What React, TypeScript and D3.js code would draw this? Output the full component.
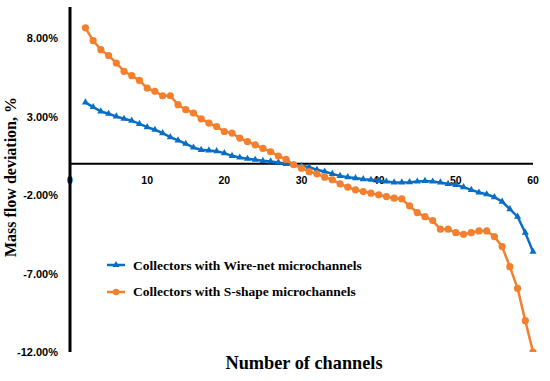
import React from "react"
import * as d3 from "d3"

const firstChannel = 2
const xTicks = [0, 10, 20, 30, 40, 50, 60]
const yTicks = [-12, -7, -2, 3, 8]

// Collectors with Wire-net microchannels (channels 2..60)
const wireNet = [
  3.92, 3.62, 3.34, 3.19, 3.02, 2.87, 2.75, 2.55, 2.34, 2.17,
  1.96, 1.7, 1.49, 1.28, 1.04, 0.89, 0.85, 0.81, 0.68, 0.51,
  0.4, 0.32, 0.26, 0.19, 0.15, 0.09, 0.0, -0.06, -0.13, -0.21,
  -0.38, -0.49, -0.64, -0.77, -0.85, -0.91, -0.98, -1.02, -1.07, -1.13,
  -1.19, -1.19, -1.17, -1.13, -1.09, -1.13, -1.19, -1.28, -1.34, -1.49,
  -1.66, -1.83, -1.94, -2.13, -2.41, -2.89, -3.37, -4.39, -5.6,
]

// Collectors with S-shape microchannels (channels 2..60)
const sShape = [
  8.67, 7.85, 7.28, 6.9, 6.43, 5.9, 5.62, 5.32, 4.83, 4.62,
  4.34, 4.34, 3.77, 3.45, 3.24, 2.87, 2.6, 2.38, 2.06, 1.96,
  1.64, 1.42, 1.21, 0.98, 0.77, 0.5, 0.28, -0.06, -0.28, -0.5,
  -0.64, -0.85, -1.02, -1.28, -1.49, -1.66, -1.77, -1.87, -1.98, -2.09,
  -2.19, -2.24, -2.68, -3.11, -3.37, -3.62, -4.17, -4.17, -4.39, -4.49,
  -4.39, -4.28, -4.28, -4.64, -5.28, -6.56, -7.94, -10.0, -12.0,
]

const BLUE = "#0a6fc4"
const ORANGE = "#f47f2c"

export default function App() {
  const width = 550
  const height = 381
  const left = 70
  const right = 533
  const top = 7
  const bottom = 352

  const x = d3.scaleLinear().domain([0, 60]).range([left, right])
  const y = d3.scaleLinear().domain([-12, 10]).range([bottom, top])

  const line = d3
    .line<number>()
    .x((_, i) => x(i + firstChannel))
    .y((d) => y(d))

  const tri = d3.symbol().type(d3.symbolTriangle).size(22)()

  const serif = "'Liberation Serif', 'Times New Roman', serif"
  const sans = "'Liberation Sans', Arial, sans-serif"

  return (
    <svg
      width={width}
      height={height}
      style={{ position: "absolute", left: 0, top: 0, background: "#fff" }}
    >
      <defs>
        <clipPath id="plot">
          <rect x={0} y={0} width={width} height={bottom} />
        </clipPath>
      </defs>

      {/* axes */}
      <line x1={left} x2={right} y1={y(0)} y2={y(0)} stroke="#000" strokeWidth={2} />
      <line x1={left} x2={left} y1={top} y2={bottom} stroke="#000" strokeWidth={3} />

      {/* y tick labels */}
      {yTicks.map((t) => (
        <text
          key={t}
          x={58}
          y={y(t) + 4}
          textAnchor="end"
          fontFamily={sans}
          fontWeight="bold"
          fontSize={11}
        >
          {t.toFixed(2) + "%"}
        </text>
      ))}

      {/* x tick labels */}
      {xTicks.map((t) => (
        <text
          key={t}
          x={x(t)}
          y={184}
          textAnchor="middle"
          fontFamily={sans}
          fontWeight="bold"
          fontSize={10.5}
        >
          {t}
        </text>
      ))}

      <g clipPath="url(#plot)">
        <path d={line(wireNet) || ""} fill="none" stroke={BLUE} strokeWidth={2.5} />
        {wireNet.map((d, i) => (
          <path
            key={i}
            d={tri || ""}
            transform={`translate(${x(i + firstChannel)},${y(d)})`}
            fill={BLUE}
          />
        ))}
        <path d={line(sShape) || ""} fill="none" stroke={ORANGE} strokeWidth={2.5} />
        {sShape.map((d, i) => (
          <circle key={i} cx={x(i + firstChannel)} cy={y(d)} r={3.6} fill={ORANGE} />
        ))}
      </g>

      {/* legend */}
      <g>
        <line x1={107} x2={125} y1={265} y2={265} stroke={BLUE} strokeWidth={2.5} />
        <path d={tri || ""} transform="translate(116,265)" fill={BLUE} />
        <text x={133} y={269.5} fontFamily={serif} fontWeight="bold" fontSize={13.5}>
          Collectors with Wire-net microchannels
        </text>
        <line x1={107} x2={125} y1={292} y2={292} stroke={ORANGE} strokeWidth={2.5} />
        <circle cx={116} cy={292} r={3.2} fill={ORANGE} />
        <text x={133} y={295.5} fontFamily={serif} fontWeight="bold" fontSize={13.5}>
          Collectors with S-shape microchannels
        </text>
      </g>

      {/* axis titles */}
      <text
        transform={`translate(16,177) rotate(-90)`}
        textAnchor="middle"
        fontFamily={serif}
        fontWeight="bold"
        fontSize={16}
      >
        Mass flow deviation, %
      </text>
      <text
        x={304}
        y={369}
        textAnchor="middle"
        fontFamily={serif}
        fontWeight="bold"
        fontSize={18.3}
      >
        Number of channels
      </text>
    </svg>
  )
}
